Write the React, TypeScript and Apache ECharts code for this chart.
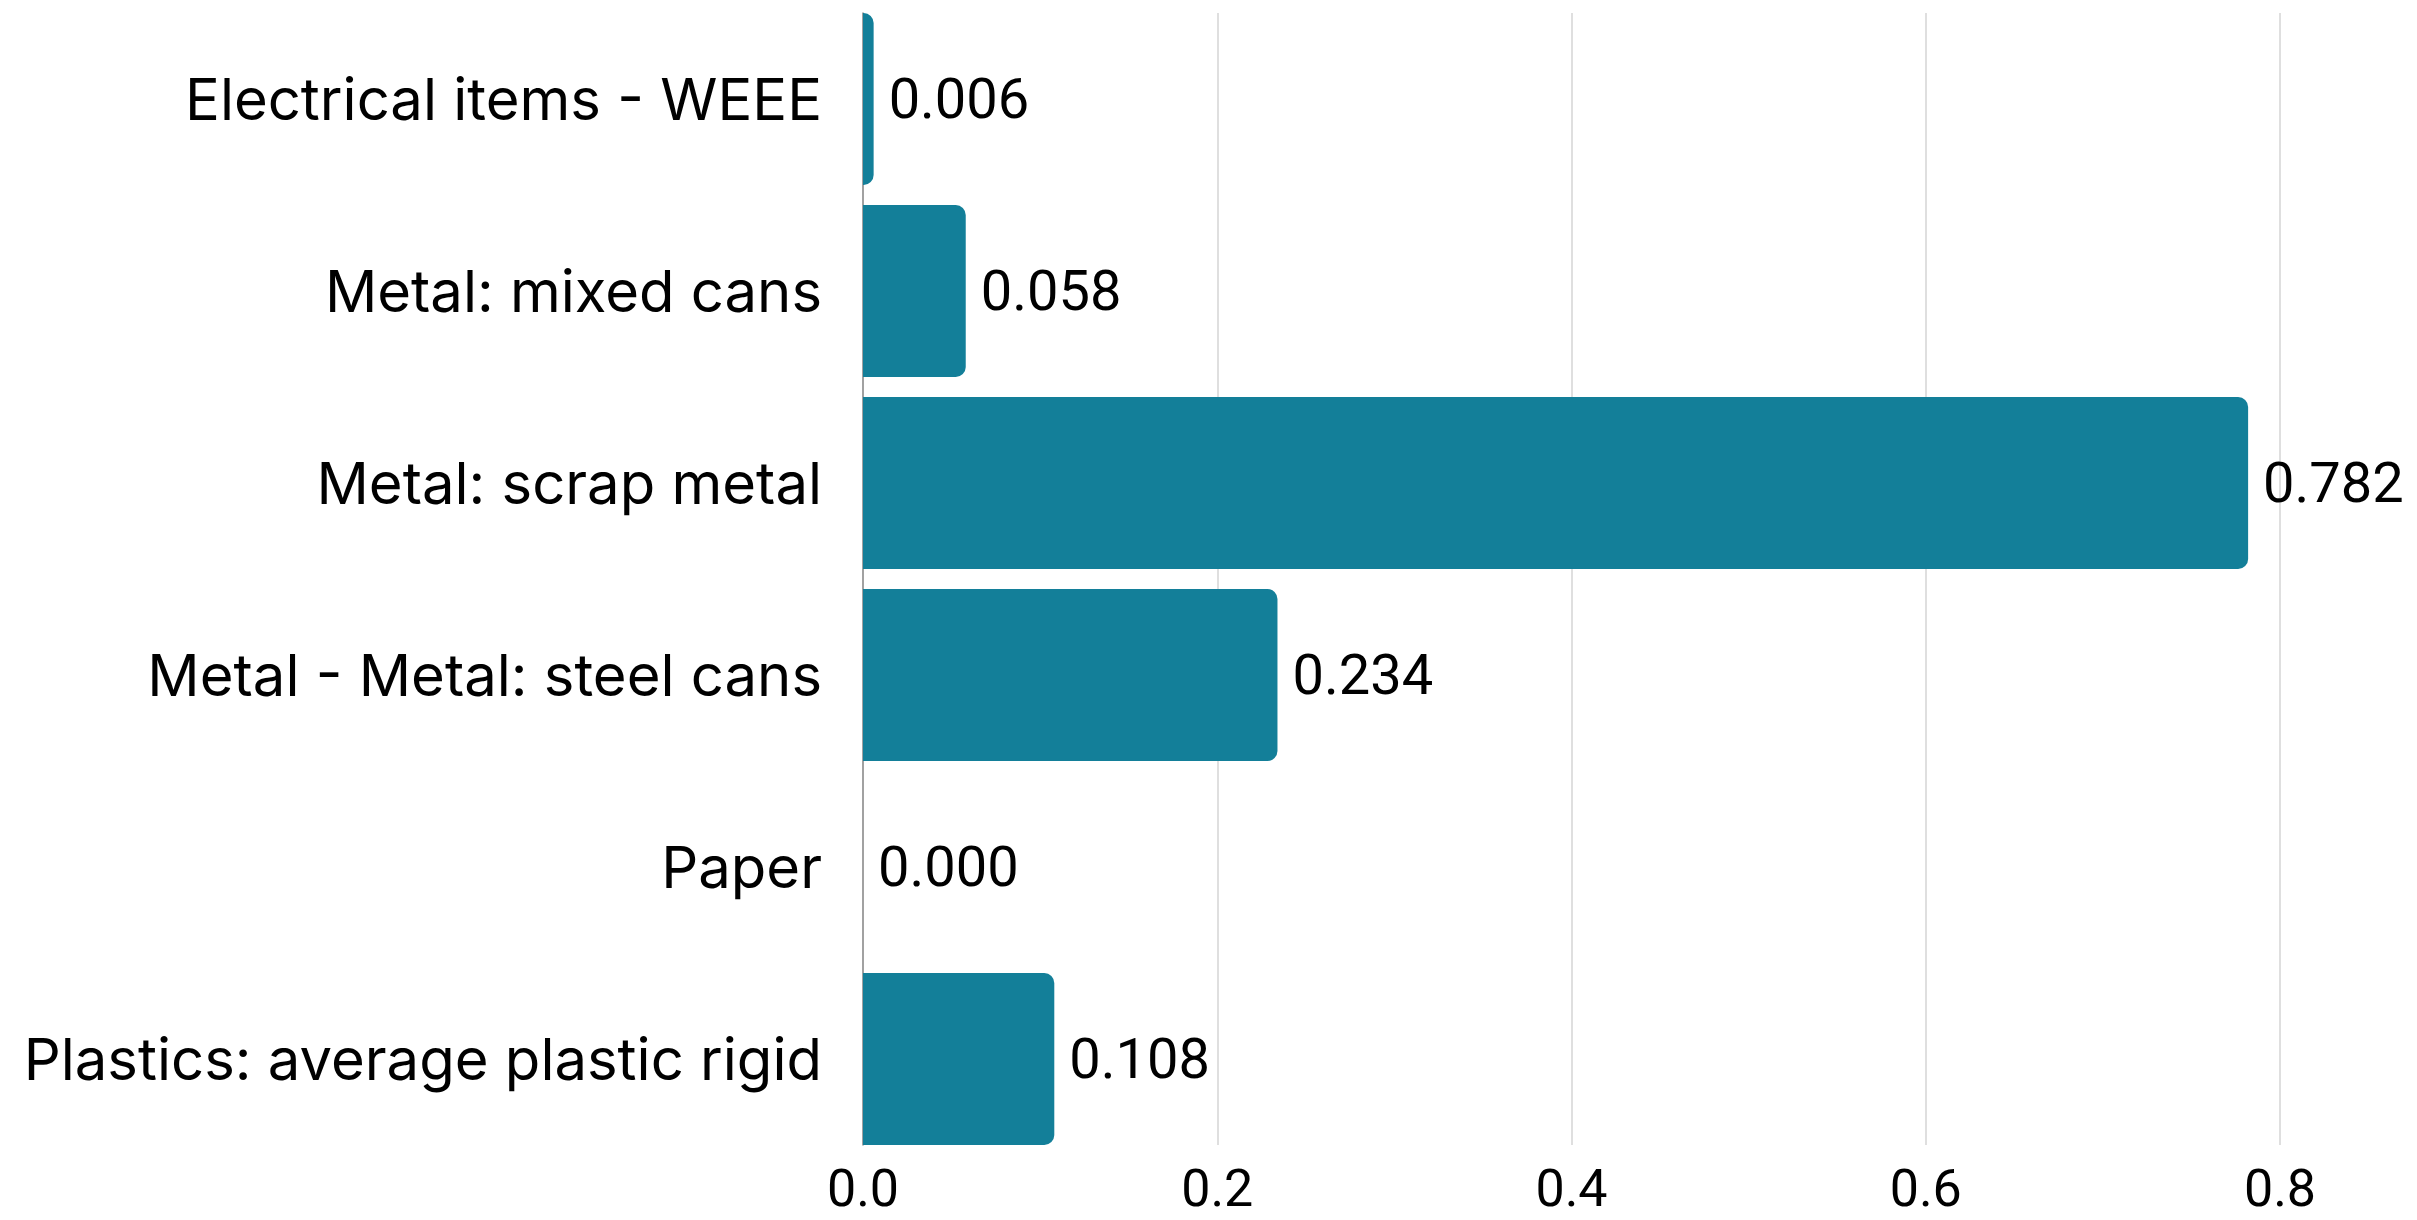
import React, { useEffect, useRef } from "react";
import * as echarts from "echarts";

const categories = [
  "Electrical items - WEEE",
  "Metal: mixed cans",
  "Metal: scrap metal",
  "Metal - Metal: steel cans",
  "Paper",
  "Plastics: average plastic rigid",
];
const values = [0.006, 0.058, 0.782, 0.234, 0.0, 0.108];
const xTicks = { min: 0, max: 0.8, interval: 0.2 };

export default function App() {
  const ref = useRef<HTMLDivElement>(null);
  useEffect(() => {
    if (!ref.current) return;
    const chart = echarts.init(ref.current, null, { renderer: "svg" });
    chart.setOption({
      animation: false,
      backgroundColor: "#ffffff",
      grid: [
        { left: 863, right: 137, top: 3, bottom: 65, containLabel: false },
        { left: 863, right: 137, top: 13, bottom: 75, containLabel: false },
      ],
      xAxis: [
        {
          type: "value",
          gridIndex: 0,
          min: xTicks.min,
          max: xTicks.max,
          interval: xTicks.interval,
          axisLine: { show: false },
          axisTick: { show: false },
          splitLine: { show: false },
          axisLabel: { show: false },
        },
        {
          type: "value",
          gridIndex: 1,
          min: xTicks.min,
          max: xTicks.max,
          interval: xTicks.interval,
          axisLine: { show: false },
          axisTick: { show: false },
          splitLine: { show: true, lineStyle: { color: "#d4d4d4", width: 1.5 } },
          axisLabel: {
            formatter: (v: number) => v.toFixed(1),
            fontFamily: "Roboto",
            fontSize: 52,
            lineHeight: 50,
            color: "#000",
            margin: 18,
          },
        },
      ],
      yAxis: [
        {
          type: "category",
          gridIndex: 0,
          data: categories,
          inverse: true,
          axisLine: { show: false },
          axisTick: { show: false },
          splitLine: { show: false },
          axisLabel: {
            fontFamily: "Inter",
            fontSize: 58,
            color: "#000",
            margin: 41,
          },
        },
        {
          type: "value",
          gridIndex: 1,
          min: 0,
          max: 1,
          axisLine: { show: true, lineStyle: { color: "#8c8c8c", width: 1.5 } },
          axisTick: { show: false },
          splitLine: { show: false },
          axisLabel: { show: false },
        },
      ],
      series: [
        {
          type: "bar",
          xAxisIndex: 0,
          yAxisIndex: 0,
          data: values,
          barCategoryGap: "10.42%",
          z: 3,
          itemStyle: { color: "#137f99", borderRadius: [0, 10, 10, 0] },
          label: {
            show: true,
            position: "right",
            distance: 15,
            formatter: (p: any) => Number(p.value).toFixed(3),
            fontFamily: "Roboto",
            fontSize: 56,
            color: "#000",
          },
        },
      ],
    });
    return () => chart.dispose();
  }, []);
  return (
    <div
      ref={ref}
      style={{ position: "fixed", left: 0, top: 0, width: 2417, height: 1220 }}
    />
  );
}
